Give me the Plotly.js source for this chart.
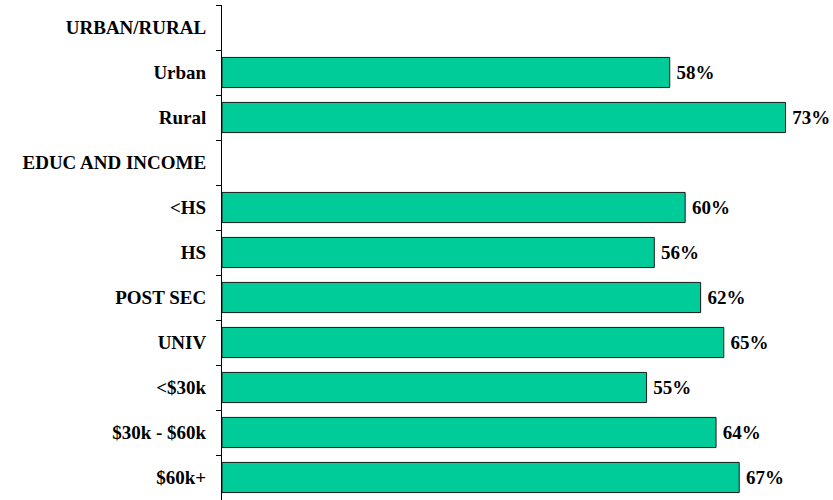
<!DOCTYPE html>
<html>
<head>
<meta charset="utf-8">
<script src="https://cdn.plot.ly/plotly-3.0.1.min.js"></script>
<style>html,body{margin:0;padding:0;background:#fff}#chart{width:833px;height:500px}</style>
</head>
<body>
<div id="chart"></div>
<script>
const categories = ["URBAN/RURAL","Urban","Rural","EDUC AND INCOME","<HS","HS","POST SEC","UNIV","<$30k","$30k - $60k","$60k+"];
const values = [null,58,73,null,60,56,62,65,55,64,67];
const labels = values.map(v => v === null ? "" : "\u2009" + v + "%");

const fontFam = '"Liberation Serif", "Times New Roman", serif';

Plotly.newPlot('chart', [{
  type: 'bar',
  orientation: 'h',
  y: categories,
  x: values,
  text: labels,
  textposition: 'outside',
  cliponaxis: false,
  textfont: {family: fontFam, size: 19, color: '#000', weight: 'bold'},
  marker: {color: '#00CC99', line: {color: '#1a1a1a', width: 1}},
  width: 0.67,
  hoverinfo: 'none'
}], {
  width: 833, height: 500,
  margin: {l: 222, r: 0, t: 5, b: 0},
  paper_bgcolor: '#fff', plot_bgcolor: '#fff',
  showlegend: false,
  xaxis: {range: [0, 79.15], visible: false, showgrid: false, zeroline: false, fixedrange: true},
  yaxis: {
    type: 'category',
    autorange: 'reversed',
    showline: true, linecolor: '#000', linewidth: 1,
    ticks: 'outside', ticklen: 5, tickwidth: 1, tickcolor: '#000', tickson: 'boundaries',
    ticklabelstandoff: 11,
    tickfont: {family: fontFam, size: 19, color: '#000', weight: 'bold'},
    showgrid: false, zeroline: false
  }
}, {staticPlot: true});
</script>
</body>
</html>
